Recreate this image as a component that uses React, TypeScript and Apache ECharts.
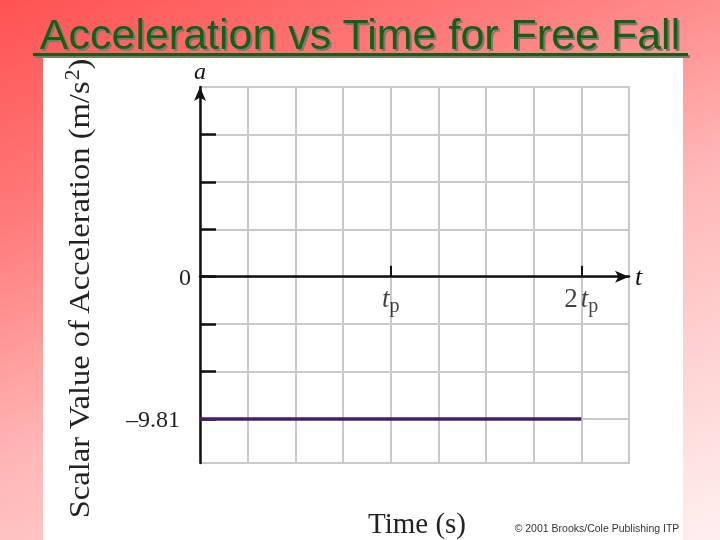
import React, { useEffect, useRef } from 'react';
import * as echarts from 'echarts';

// time in grid cells (t_p = 4 cells, 2 t_p = 8 cells)
const timeValues = [0, 8];
const accelValues = [-9.81, -9.81];
const xLabelValues = [4, 8];
const xLabelTexts = ['{t|t}{p|p}', '{n|2}{t|t}{p|p}'];
const yTickValues = [9.81, 6.54, 3.27, 0, -3.27, -6.54, -9.81];
const yLabelValues = [0, -9.81];
const yLabelTexts = ['{z|0}', '{n|–9.81}'];
const yMin = -12.85;
const yMax = 13.08;
const yCell = 3.27;
const xMin = 0;
const xMax = 9;

const SERIF = '"Liberation Serif", "DejaVu Serif", serif';
const SANS = '"Liberation Sans", Arial, sans-serif';
const GRID_GRAY = '#c9c9c9';

export default function App() {
  const ref = useRef<HTMLDivElement>(null);
  useEffect(() => {
    if (!ref.current) return;
    const chart = echarts.init(ref.current, null, { renderer: 'svg' });
    const titleText = 'Acceleration vs Time for Free Fall';
    chart.setOption({
      animation: false,
      graphic: [
        {
          type: 'rect', z: -10, silent: true,
          shape: { x: 0, y: 0, width: 720, height: 540 },
          style: {
            fill: new echarts.graphic.LinearGradient(0, 0, 0.72, 1.28, [
              { offset: 0, color: '#ff5252' },
              { offset: 0.25, color: '#ff7b7b' },
              { offset: 0.5, color: '#ffb4b4' },
              { offset: 1, color: '#fffafa' },
            ]),
          },
        },
        {
          type: 'rect', z: -9, silent: true,
          shape: { x: 43, y: 58, width: 640, height: 482 },
          style: { fill: '#ffffff' },
        },
        {
          type: 'text', z: 11, x: 360, y: 34,
          style: {
            text: titleText, font: `43px ${SANS}`, fill: '#145e14', align: 'center', verticalAlign: 'middle',
            textShadowColor: '#7a7a6a', textShadowOffsetX: 2, textShadowOffsetY: 2, textShadowBlur: 0.5,
            shadowColor: '#7a7a6a', shadowOffsetX: 2, shadowOffsetY: 2, shadowBlur: 0.5,
          },
        },
        {
          type: 'rect', z: 11, shape: { x: 33, y: 53, width: 655, height: 3 },
          style: { fill: '#145e14', shadowColor: '#7a7a6a', shadowOffsetX: 2, shadowOffsetY: 2, shadowBlur: 0.5 },
        },
        {
          type: 'text', z: 10, x: 79, y: 289, rotation: Math.PI / 2, scaleX: 1.085,
          style: {
            text: '{m|Scalar Value of Acceleration (m/s}{s|2}{m|)}',
            align: 'center', verticalAlign: 'middle',
            rich: {
              m: { fontFamily: SERIF, fontSize: 30, fill: '#222' },
              s: { fontFamily: SERIF, fontSize: 20, fill: '#222', padding: [0, 0, 13, 0] },
            },
          },
        },
        {
          type: 'text', z: 10, x: 417, y: 523,
          style: { text: 'Time (s)', font: `29px ${SERIF}`, fill: '#222', align: 'center', verticalAlign: 'middle' },
        },
        {
          type: 'text', z: 10, x: 597, y: 528,
          style: { text: '© 2001 Brooks/Cole Publishing ITP', font: `10.5px ${SANS}`, fill: '#333', align: 'center', verticalAlign: 'middle' },
        },
      ],
      grid: {
        left: 200, top: 87, width: 429, height: 376,
        show: true, borderColor: GRID_GRAY, borderWidth: 2, backgroundColor: 'transparent', z: 0,
      },
      xAxis: [
        {
          type: 'value', min: xMin, max: xMax, interval: 1, z: 2,
          name: 't', nameLocation: 'end', nameGap: 6,
          nameTextStyle: { fontFamily: SERIF, fontStyle: 'italic', fontSize: 26, color: '#111', verticalAlign: 'middle' },
          axisLine: { onZero: true, symbol: ['none', 'arrow'], symbolSize: [9, 14], lineStyle: { color: '#111', width: 2.5 } },
          axisTick: { show: true, inside: true, length: 11, customValues: xLabelValues, lineStyle: { color: '#111', width: 2 } },
          axisLabel: { show: false },
          splitLine: { show: false },
        },
        {
          type: 'value', min: xMin, max: xMax, interval: 1, z: 1, gridIndex: 0,
          axisLine: { show: false }, axisTick: { show: false }, axisLabel: { show: false },
          splitLine: { show: true, lineStyle: { color: GRID_GRAY, width: 2 } },
        },
      ],
      yAxis: [
        {
          type: 'value', min: yMin, max: yMax, z: 2,
          name: 'a', nameLocation: 'end', nameGap: 4,
          nameTextStyle: { fontFamily: SERIF, fontStyle: 'italic', fontSize: 24, color: '#111' },
          axisLine: { show: true, onZero: false, symbol: ['none', 'arrow'], symbolSize: [9, 14], lineStyle: { color: '#111', width: 2.5 } },
          axisTick: { show: true, inside: true, length: 16, customValues: yTickValues, lineStyle: { color: '#111', width: 2.5 } },
          axisLabel: {
            show: true, customValues: yLabelValues, margin: 9,
            formatter: (v: number) => yLabelTexts[yLabelValues.indexOf(v)] ?? '',
            rich: {
              z: { fontFamily: SERIF, fontSize: 24, color: '#222' },
              n: { fontFamily: SERIF, fontSize: 24, color: '#222', padding: [0, 11, 0, 0] },
            },
          },
          splitLine: { show: false },
        },
        {
          type: 'value', min: 0, max: (yMax - yMin) / yCell, interval: 1, inverse: true, z: 1, gridIndex: 0,
          axisLine: { show: false }, axisTick: { show: false }, axisLabel: { show: false },
          splitLine: { show: true, lineStyle: { color: GRID_GRAY, width: 2 } },
        },
      ],
      series: [
        {
          type: 'line', z: 3, symbol: 'none', xAxisIndex: 0, yAxisIndex: 0,
          data: timeValues.map((t, i) => [t, accelValues[i]]),
          lineStyle: { color: '#4a1e5e', width: 3.5 },
        },
        {
          type: 'scatter', z: 3, xAxisIndex: 0, yAxisIndex: 0, symbolSize: 0, silent: true,
          data: xLabelValues.map((v) => [v, 0]),
          label: {
            show: true, position: 'bottom', distance: 4,
            formatter: (p: any) => xLabelTexts[p.dataIndex],
            rich: {
              t: { fontFamily: SERIF, fontStyle: 'italic', fontSize: 27, color: '#111' },
              n: { fontFamily: SERIF, fontSize: 27, color: '#111', padding: [0, 3, 0, 0] },
              p: { fontFamily: SERIF, fontSize: 20, color: '#111', padding: [14, 0, 0, 0] },
            },
          },
        },
      ],
    });
    return () => chart.dispose();
  }, []);
  return <div ref={ref} style={{ position: 'fixed', left: 0, top: 0, width: 720, height: 540 }} />;
}
